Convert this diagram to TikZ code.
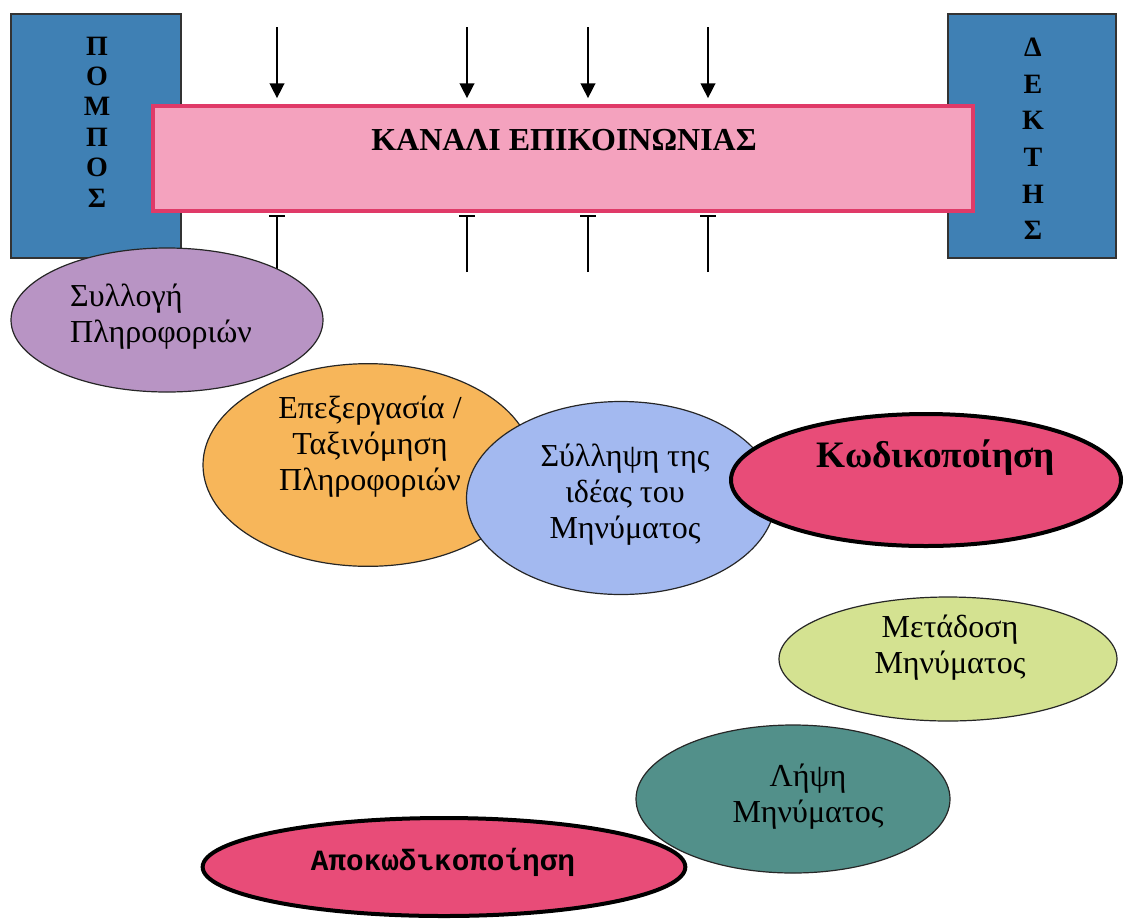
\documentclass[tikz,border=0pt]{standalone}
\usepackage{fontspec}
\setmainfont{Liberation Serif}
\newfontfamily\monofam{Liberation Mono}
\usetikzlibrary{shapes.geometric,arrows.meta}

\definecolor{stationblue}{HTML}{3F80B4}
\definecolor{channelfill}{HTML}{F4A2BE}
\definecolor{channeledge}{HTML}{E03A68}
\definecolor{lavender}{HTML}{B894C4}
\definecolor{apricot}{HTML}{F7B65A}
\definecolor{skyblue}{HTML}{A3B9F0}
\definecolor{crimsonpink}{HTML}{E84C78}
\definecolor{limegreen}{HTML}{D4E291}
\definecolor{tealgrey}{HTML}{52908A}

\begin{document}
\begin{tikzpicture}[x=0.75pt,y=-0.75pt,
  station/.style={draw=black!80, line width=1pt, fill=stationblue, inner sep=0pt},
  channelbox/.style={draw=channeledge, line width=2.8pt, fill=channelfill, inner sep=0pt,
    minimum width=615pt, minimum height=78.75pt},
  vletters/.style={align=center, font=\fontsize{21}{22.8}\selectfont\bfseries, inner sep=0pt},
  stage/.style={ellipse, draw=black!85, line width=0.9pt, inner sep=0pt},
  keystage/.style={ellipse, draw=black, line width=3pt, fill=crimsonpink, inner sep=0pt},
  stagetext/.style={align=center, font=\fontsize{24}{27}\selectfont, inner sep=0pt},
  noise/.style={line width=1.1pt, -{Triangle[width=11pt,length=11pt]}},
  feedback/.style={line width=1.1pt, -{Bar[width=12pt,line width=1.6pt]}}
]
\useasboundingbox (0,0) rectangle (1134,921);

% sender and receiver
\node[station, minimum width=127.5pt, minimum height=183pt] (sender) at (96,136) {};
\node[vletters] (sendertxt) at (97,122) {Π\\Ο\\Μ\\Π\\Ο\\Σ};
\node[station, minimum width=126pt, minimum height=183pt] (receiver) at (1032,136) {};
\node[vletters, font=\fontsize{21}{27.5}\selectfont\bfseries] (receivertxt) at (1033,139) {Δ\\Ε\\Κ\\Τ\\Η\\Σ};

% the channel
\node[channelbox] (channel) at (563,158.5) {};
\node[font=\fontsize{24}{28}\selectfont\bfseries, inner sep=0pt] (channeltxt) at (564,140) {ΚΑΝΑΛΙ ΕΠΙΚΟΙΝΩΝΙΑΣ};

% arrows entering the channel from above
\foreach \i/\x in {1/277,2/467,3/588,4/708}{
  \coordinate (in\i) at (\x,27);
  \draw[noise, shorten >=4.5pt] (in\i) -- (in\i |- channel.north);
}
% lines leaving the channel below
\foreach \i/\x in {1/277,2/467,3/588,4/708}{
  \coordinate (out\i) at (\x,272);
  \draw[feedback, shorten >=1.4pt] (out\i) -- (out\i |- channel.south);
}

% process stages
\node[stage, fill=lavender, minimum width=234pt, minimum height=108pt] (collect) at (167,320) {};
\node[stagetext, align=left] (collecttxt) at (161,317) {Συλλογή\\Πληροφοριών};

\node[stage, fill=apricot, minimum width=247.5pt, minimum height=152pt] (process) at (368,465) {};
\node[stagetext] (processtxt) at (370,447) {Επεξεργασία /\\Ταξινόμηση\\Πληροφοριών};

\node[stage, fill=skyblue, minimum width=231.75pt, minimum height=144.75pt] (idea) at (621,498) {};
\node[stagetext] (ideatxt) at (625,495) {Σύλληψη της\\ιδέας του\\Μηνύματος};

\node[keystage, minimum width=292.5pt, minimum height=99pt] (encode) at (926,480) {};
\node[font=\fontsize{28}{32}\selectfont\bfseries, inner sep=0pt] (encodetxt) at (936,458) {Κωδικοποίηση};

\node[stage, fill=limegreen, minimum width=253.5pt, minimum height=93pt] (transmit) at (948,659) {};
\node[stagetext] (transmittxt) at (950,648) {Μετάδοση\\Μηνύματος};

\node[stage, fill=tealgrey, minimum width=235.5pt, minimum height=111pt] (receive) at (793,799) {};
\node[stagetext] (receivetxt) at (808,797) {Λήψη\\Μηνύματος};

\node[keystage, minimum width=362pt, minimum height=73.5pt] (decode) at (444,867) {};
\node[font=\monofam\bfseries\fontsize{22}{26}\selectfont, inner sep=0pt] (decodetxt) at (443,862) {Αποκωδικοποίηση};

\end{tikzpicture}
\end{document}
